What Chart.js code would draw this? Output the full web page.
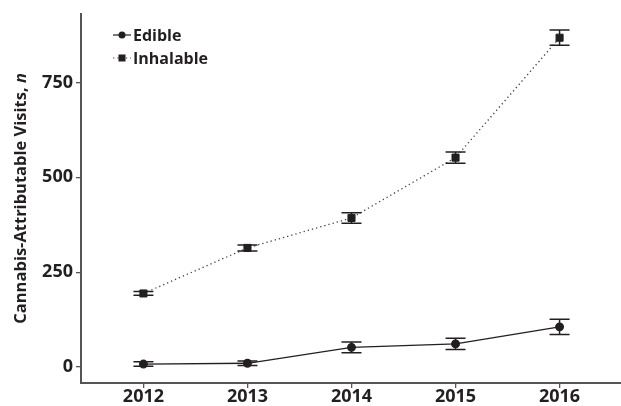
<!DOCTYPE html>
<html>
<head>
<meta charset="utf-8">
<script src="https://cdn.jsdelivr.net/npm/chart.js@4.4.1/dist/chart.umd.min.js"></script>
<style>
  html, body { margin: 0; padding: 0; background: #fff; overflow: hidden; }
  /* a little wider than the window: the plot runs right up to the edge */
  #wrap { width: 628px; height: 406px; position: relative; }
</style>
</head>
<body>
<div id="wrap"><canvas id="c"></canvas></div>
<script>
'use strict';

// data
const years = [2012, 2013, 2014, 2015, 2016];
const edible = [8, 10, 52, 61, 106];
const edibleErr = [6, 6, 14, 15, 20];
const inhalable = [194, 314, 393, 552, 868];
const inhalableErr = [5, 8, 14, 15, 20];
const yTicks = [0, 250, 500, 750];

const INK = '#231f20';
const AXIS = '#555555';
const FONT = "'Open Sans', 'Noto Sans', sans-serif";

const pts = (vals, errs) => vals.map((v, i) => ({ x: years[i], y: v, err: errs[i] }));

// error bars, drawn through the chart's own scales
const errorBars = {
  id: 'errorBars',
  afterDatasetsDraw(chart) {
    const { ctx, scales: { x, y } } = chart;
    ctx.save();
    ctx.strokeStyle = INK;
    ctx.lineWidth = 1.5;
    chart.data.datasets.forEach(ds => {
      ds.data.forEach(p => {
        const px = x.getPixelForValue(p.x);
        const top = y.getPixelForValue(p.y + p.err);
        const bot = y.getPixelForValue(p.y - p.err);
        ctx.beginPath();
        ctx.moveTo(px, top); ctx.lineTo(px, bot);
        ctx.moveTo(px - 10, top); ctx.lineTo(px + 10, top);
        ctx.moveTo(px - 10, bot); ctx.lineTo(px + 10, bot);
        ctx.stroke();
      });
    });
    ctx.restore();
  }
};

// y title with italic n, and the in-plot legend
const extras = {
  id: 'extras',
  afterDraw(chart) {
    const { ctx, chartArea } = chart;
    ctx.save();
    // axis title
    const main = 'Cannabis-Attributable Visits, ';
    const bold = 'bold 16.5px ' + FONT;
    const ital = 'italic bold 16.5px ' + FONT;
    ctx.font = bold;
    const w1 = ctx.measureText(main).width;
    ctx.font = ital;
    const w2 = ctx.measureText('n').width;
    const cy = (chartArea.top + chartArea.bottom) / 2;
    ctx.translate(21, cy);
    ctx.rotate(-Math.PI / 2);
    ctx.fillStyle = INK;
    ctx.textBaseline = 'middle';
    ctx.textAlign = 'left';
    ctx.font = bold;
    ctx.fillText(main, -(w1 + w2) / 2, 0);
    ctx.font = ital;
    ctx.fillText('n', -(w1 + w2) / 2 + w1, 0);
    ctx.restore();

    // legend
    ctx.save();
    ctx.font = 'bold 16px ' + FONT;
    ctx.textBaseline = 'middle';
    const lx = 113, ly = [35, 58];
    chart.data.datasets.forEach((ds, i) => {
      const yy = ly[i];
      ctx.lineWidth = 1.2;
      ctx.setLineDash(ds.borderDash || []);
      ctx.strokeStyle = ds.borderColor;
      ctx.beginPath();
      ctx.moveTo(lx, yy); ctx.lineTo(lx + 18, yy);
      ctx.stroke();
      ctx.setLineDash([]);
      ctx.fillStyle = INK;
      if (ds.pointStyle === 'rect') {
        ctx.fillRect(lx + 5.5, yy - 3.5, 7, 7);
      } else {
        ctx.beginPath();
        ctx.arc(lx + 9, yy, 3.5, 0, Math.PI * 2);
        ctx.fill();
      }
      ctx.fillText(ds.label, lx + 20, yy + 1);
    });
    ctx.restore();
  }
};

new Chart(document.getElementById('c'), {
  type: 'line',
  data: {
    datasets: [
      {
        label: 'Edible',
        data: pts(edible, edibleErr),
        borderColor: INK,
        backgroundColor: INK,
        pointBorderColor: INK,
        borderWidth: 1.3,
        pointStyle: 'circle',
        pointRadius: 3.8,
        tension: 0
      },
      {
        label: 'Inhalable',
        data: pts(inhalable, inhalableErr),
        borderColor: '#444',
        backgroundColor: INK,
        pointBackgroundColor: INK,
        pointBorderColor: INK,
        pointBorderWidth: 1,
        borderWidth: 1.3,
        borderDash: [1.3, 3],
        pointStyle: 'rect',
        pointRadius: 5,
        tension: 0
      }
    ]
  },
  options: {
    responsive: true,
    maintainAspectRatio: false,
    animation: false,
    layout: { padding: { top: 12, right: 0, left: 0, bottom: 0 } },
    plugins: { legend: { display: false }, tooltip: { enabled: false } },
    scales: {
      x: {
        type: 'linear',
        min: 2011.4,
        max: 2016.6,
        afterBuildTicks: s => { s.ticks = years.map(v => ({ value: v })); },
        afterFit: s => { s.height = 23; },
        grid: { display: true, drawOnChartArea: false, tickLength: 5, color: AXIS, lineWidth: 1.3 },
        border: { display: true, color: AXIS, width: 2 },
        ticks: {
          color: INK,
          font: { family: FONT, size: 18, weight: 'bold' },
          padding: -2,
          maxRotation: 0,
          callback: v => String(v)
        }
      },
      y: {
        min: -42,
        max: 931,
        afterBuildTicks: s => { s.ticks = yTicks.map(v => ({ value: v })); },
        afterFit: s => { s.width = 81; },
        grid: { display: true, drawOnChartArea: false, tickLength: 5, color: AXIS, lineWidth: 1.3 },
        border: { display: true, color: AXIS, width: 2 },
        ticks: {
          color: INK,
          font: { family: FONT, size: 18, weight: 'bold' },
          padding: 3,
          callback: v => String(v)
        }
      }
    }
  },
  plugins: [errorBars, extras]
});
</script>
</body>
</html>
